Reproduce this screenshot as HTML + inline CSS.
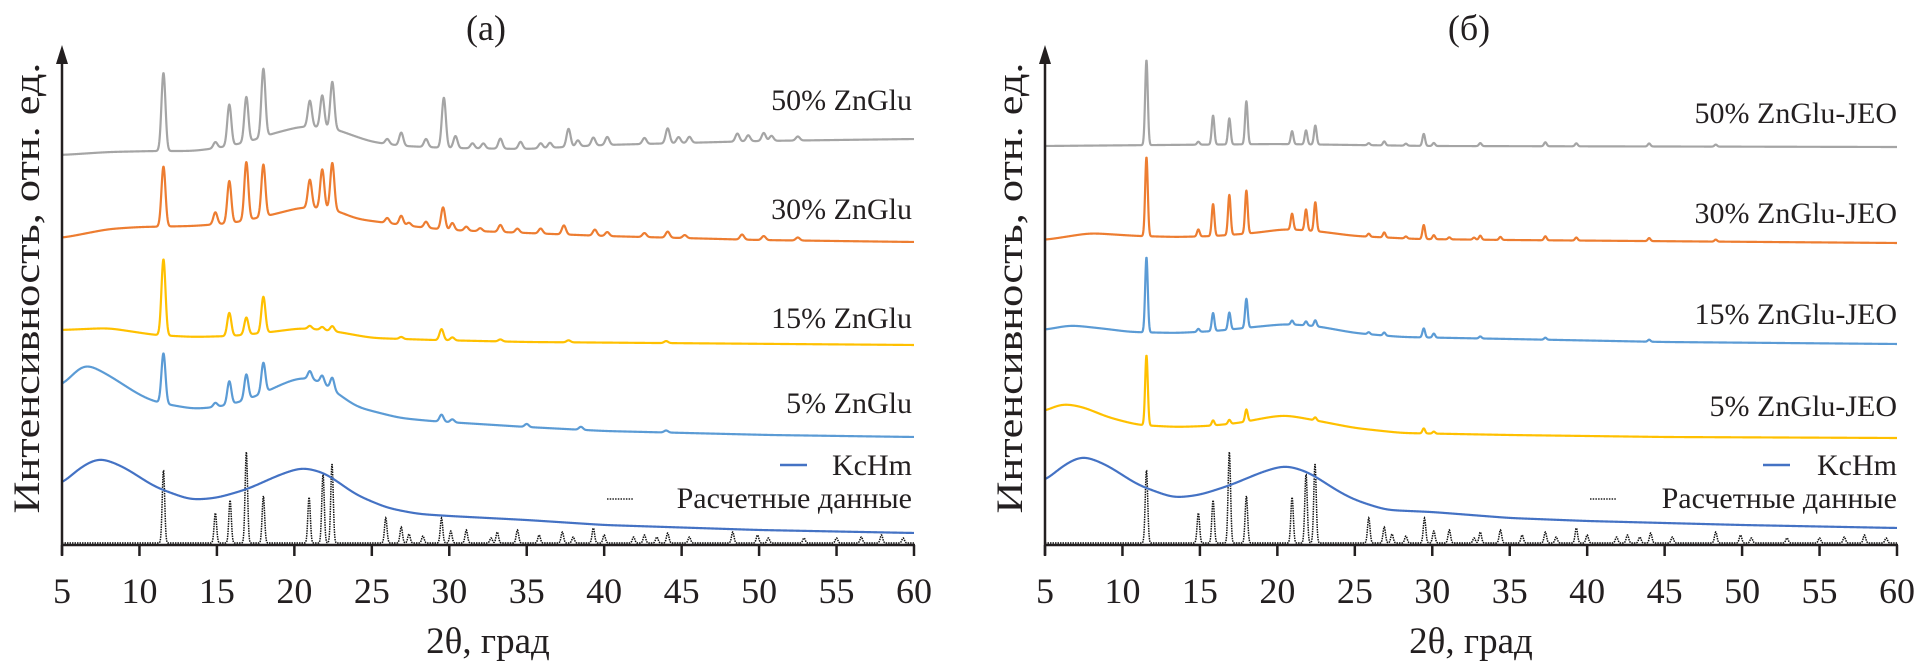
<!DOCTYPE html>
<html><head><meta charset="utf-8"><title>XRD</title>
<style>
html,body{margin:0;padding:0;background:#fff;}
svg{display:block;font-family:"Liberation Serif","DejaVu Serif",serif;}
</style></head>
<body>
<svg id="chart" width="1918" height="668" viewBox="0 0 1918 668" xmlns="http://www.w3.org/2000/svg"></svg>
<script>
// ---------- data ----------
const xTicks = [5,10,15,20,25,30,35,40,45,50,55,60];
const calcPos = [11.55,14.9,15.85,16.9,18.0,20.95,21.85,22.43,25.9,26.9,27.4,28.3,29.5,30.1,31.1,32.7,33.1,34.4,35.8,37.3,38.0,39.3,40.0,41.9,42.6,43.4,44.1,45.5,48.3,49.9,50.6,52.9,55.0,56.6,57.9,59.3];
const calcHeights = [73,30,43,91,47,46,69,79,25,16,9,7,25,12,13,5,11,13,8,11,6,15,8,6,8,6,10,6,11,8,5,5,5,6,8,5];
const calcBase = 2;
const kcA_x = [5,6,7.4,9,11,13.3,15,17,19,20.5,22,24,26,28,30,35,40,50,60];
const kcA_y = [60,76,88,78,58,45,47,56,70,78,72,50,37,31,29,25,20,15,12];
const kcB_x = [5,6,7.4,9,11,13.3,15,17,19,20.5,22,24,25,27,30,35,40,50,60];
const kcB_y = [63,78,90,80,60,47,50,60,73,80,73,53,45,35,33,27,24,20,17];
const a5_bx = [5,6.4,8,10,11,13.5,15,16.5,18,19.5,20.5,21.5,22.5,24,26.8,28.8,35,40,50.7,60];
const a5_by = [158,183,170,150,143,136,138,143,152,163,168,165,155,138,127,124,118,114,110,108];
const a5_pos = [11.55,14.9,15.8,16.9,18.0,21.0,21.8,22.45,29.5,30.2,35,38.5,44];
const a5_h = [50,4,23,25,30,8,8,12,7,3,3,3,2];
const a15_bx = [5,8,11,13.5,16,18.5,20.5,22.5,25,29,35,60];
const a15_by = [215,217,210,208,209,213,217,214,207,205,203,200];
const a15_pos = [11.55,15.8,16.9,18.0,21.0,21.8,22.45,26.9,29.5,30.2,33.3,37.7,44];
const a15_h = [76,23,17,36,3,3,5,2,11,3,2,2,2];
const a30_bx = [5,8,10,13.5,16,18.5,20.5,22.5,24,26,28,30,35,40,50,60];
const a30_by = [307,316,318,319,322,330,338,336,326,322,318,315,312,309,305,303];
const a30_pos = [11.55,14.9,15.8,16.9,18.0,21.0,21.8,22.45,26.0,26.9,27.4,28.5,29.6,30.2,31.1,32.0,33.3,34.4,35.9,37.4,39.4,40.2,42.6,44.1,45.2,48.9,50.3,52.5];
const a30_h = [60,12,42,58,52,28,39,47,5,9,3,6,22,7,4,3,7,4,5,9,6,4,4,6,3,5,4,3];
const a50_bx = [5,8,11,13.5,15,17,18.5,20.5,22.5,23.5,25,27,30,35,40,50,60];
const a50_by = [390,393,394,394,397,403,411,419,417,411,403,399,397,396,400,404,406];
const a50_pos = [11.55,14.9,15.8,16.9,18.0,21.0,21.8,22.45,26.0,26.9,28.5,29.65,30.4,31.5,32.2,33.3,34.6,35.9,36.5,37.7,38.3,39.3,40.2,42.6,44.1,44.8,45.5,48.6,49.3,50.3,50.8,52.5];
const a50_h = [78,6,41,45,68,26,32,47,5,13,8,50,12,5,5,10,7,5,5,18,6,8,8,6,15,6,6,8,6,8,5,4];
const b5_bx = [5,6,7.5,9,11,13.5,15.5,17.5,19.5,20.5,22,25,28,35,45,60];
const b5_by = [133,142,138,128,120,118,119,122,128,130,126,117,112,110,108,107];
const b5_pos = [11.55,15.85,16.9,18.0,22.45,29.45,30.1];
const b5_h = [70,5,4,12,3,5,2];
const b15_bx = [5,6.6,9,10.5,13.5,16,18.5,20.5,22.5,25,28,35,45,60];
const b15_by = [215,220,216,213,212,214,218,221,219,212,208,206,203,201];
const b15_pos = [11.55,14.9,15.85,16.9,18.0,20.95,21.85,22.45,25.9,26.9,29.45,30.1,33.1,37.3,44];
const b15_h = [75,3,18,17,29,4,4,6,2,3,9,4,2,2,2];
const b30_bx = [5,7.9,11,13.5,16,18.5,20.5,22.5,25,29,35,60];
const b30_by = [305,312,309,308,309,312,316,314,309,306,305,302];
const b30_pos = [11.55,14.9,15.85,16.9,18.0,20.95,21.85,22.45,25.9,26.9,28.3,29.45,30.1,31.1,32.7,33.1,34.4,37.3,39.3,44,48.3];
const b30_h = [79,7,32,40,43,16,21,29,3,5,2,14,4,2,2,4,3,4,3,3,2];
const b50_bx = [5,20,30,60];
const b50_by = [399,401,399,398];
const b50_pos = [11.55,14.9,15.85,16.9,18.0,20.95,21.85,22.45,25.9,26.9,28.3,29.45,30.1,33.1,37.3,39.3,44,48.3];
const b50_h = [85,3,29,26,43,13,14,19,2,4,2,12,3,3,4,3,3,2];

// ---------- helpers ----------
const svg = document.getElementById('chart');
const NS = 'http://www.w3.org/2000/svg';
function mk(tag, attrs, parent){
  const e = document.createElementNS(NS, tag);
  for (const k in attrs) e.setAttribute(k, attrs[k]);
  (parent||svg).appendChild(e);
  return e;
}
const Y0 = 545;
function yScale(v){ return Y0 - v; }
function makeX(x0){ const k = 852/55; return d => x0 + (d-5)*k; }
function lin(xs, ys, d){
  if (d <= xs[0]) return ys[0];
  for (let i=1;i<xs.length;i++){
    if (d <= xs[i]){ const t=(d-xs[i-1])/(xs[i]-xs[i-1]); return ys[i-1]+(ys[i]-ys[i-1])*t; }
  }
  return ys[ys.length-1];
}
const STEP = 0.02;
function grid(){ const g=[]; for (let d=5; d<=60.0001; d+=STEP) g.push(d); return g; }
function smoothBase(xs, ys, g){
  const raw = g.map(d=>lin(xs,ys,d));
  const sig = 0.5/STEP, R = Math.ceil(3*sig), w=[];
  for (let j=-R;j<=R;j++) w.push(Math.exp(-0.5*(j/sig)*(j/sig)));
  return raw.map((_,i)=>{
    let s=0,ws=0;
    for (let j=-R;j<=R;j++){ const k=Math.min(raw.length-1,Math.max(0,i+j)); s+=raw[k]*w[j+R]; ws+=w[j+R]; }
    return s/ws;
  });
}
function profile(d, pos, h, sig){
  let s=0;
  for (let i=0;i<pos.length;i++){
    const z=(d-pos[i])/sig;
    if (Math.abs(z)<6) s+=h[i]*Math.exp(-0.5*z*z);
  }
  return s;
}
function pathFor(xf, bx, by, pos, h, sig, baseConst){
  const g = grid();
  const base = baseConst!==undefined ? g.map(()=>baseConst) : smoothBase(bx,by,g);
  let p='';
  g.forEach((d,i)=>{
    const v = base[i] + profile(d,pos,h,sig);
    p += (i?'L':'M') + xf(d).toFixed(2)+','+yScale(v).toFixed(2);
  });
  return p;
}

function drawPanel(x0, cfg){
  const xf = makeX(x0);
  const g = mk('g',{});
  
  
  const c = mk('path',{d:pathFor(xf,null,null,calcPos,calcHeights,0.08,calcBase),fill:'none',stroke:'#111','stroke-width':1.5,'stroke-dasharray':'1.5 1'},g);
  
  
  const k = mk('path',{d:pathFor(xf,cfg.kcx,cfg.kcy,[],[],0.1),fill:'none',stroke:'#4472c4','stroke-width':2.2},g);
  
  
  cfg.series.forEach(s=>{
    const e = mk('path',{d:pathFor(xf,s.bx,s.by,s.pos,s.h,cfg.sig),fill:'none',stroke:s.color,'stroke-width':2.2,'stroke-linejoin':'round'},g);
    
    
    const t = mk('text',{x:cfg.right,y:s.ly,'text-anchor':'end','font-size':30,fill:'#231f20'},g);
    t.textContent = s.label;
    
    
  });
  const ll = mk('line',{x1:cfg.kcLeg,y1:465,x2:cfg.kcLeg+27,y2:465,stroke:'#4472c4','stroke-width':2.5},g);
  
  
  const lt = mk('text',{x:cfg.right,y:475,'text-anchor':'end','font-size':30,fill:'#231f20'},g);
  lt.textContent = 'KcHm';
  
  
  const cl = mk('line',{x1:cfg.calcLeg,y1:499,x2:cfg.calcLeg+26,y2:499,stroke:'#222','stroke-width':1.4,'stroke-dasharray':'1.5 1.2'},g);
  
  
  const ct = mk('text',{x:cfg.right,y:508,'text-anchor':'end','font-size':30,fill:'#231f20'},g);
  ct.textContent = 'Расчетные данные';
  
  
  const xa = mk('line',{x1:x0,y1:Y0,x2:xf(60)+1,y2:Y0,stroke:'#231f20','stroke-width':2.5},g);
  
  
  const ya = mk('line',{x1:x0,y1:Y0+10,x2:x0,y2:60,stroke:'#231f20','stroke-width':2.5},g);
  
  
  const ar = mk('polygon',{points:`${x0},45 ${x0-6},64 ${x0+6},64`,fill:'#231f20'},g);
  
  
  xTicks.forEach(t=>{
    const tk = mk('line',{x1:xf(t),y1:Y0,x2:xf(t),y2:Y0+11,stroke:'#231f20','stroke-width':2.5},g);
    
    
    const tl = mk('text',{x:xf(t),y:603,'text-anchor':'middle','font-size':36,fill:'#231f20'},g);
    tl.textContent = String(t);
    
    
  });
  const xt = mk('text',{x:(x0+xf(60))/2,y:653,'text-anchor':'middle','font-size':37,fill:'#231f20'},g);
  xt.textContent = '2θ, град';
  
  
  const yt = mk('text',{x:0,y:0,'text-anchor':'middle','font-size':37,fill:'#231f20',textLength:451,lengthAdjust:'spacingAndGlyphs',transform:`translate(${x0-23},288) rotate(-90)`},g);
  yt.textContent = 'Интенсивность, отн. ед.';
  
  
  const pt = mk('text',{x:(x0+xf(60))/2-2,y:40,'text-anchor':'middle','font-size':36,fill:'#231f20'},g);
  pt.textContent = cfg.title;
  
  
}

drawPanel(62,{name:'panel-a',title:'(a)',sig:0.13,right:912,kcLeg:780,calcLeg:607,kcx:kcA_x,kcy:kcA_y,series:[
  {name:'zn-5',label:'5% ZnGlu',color:'#5b9bd5',bx:a5_bx,by:a5_by,pos:a5_pos,h:a5_h,ly:413},
  {name:'zn-15',label:'15% ZnGlu',color:'#ffc000',bx:a15_bx,by:a15_by,pos:a15_pos,h:a15_h,ly:328},
  {name:'zn-30',label:'30% ZnGlu',color:'#ed7d31',bx:a30_bx,by:a30_by,pos:a30_pos,h:a30_h,ly:219},
  {name:'zn-50',label:'50% ZnGlu',color:'#a5a5a5',bx:a50_bx,by:a50_by,pos:a50_pos,h:a50_h,ly:110}
]});
drawPanel(1045,{name:'panel-b',title:'(б)',sig:0.085,right:1897,kcLeg:1763,calcLeg:1590,kcx:kcB_x,kcy:kcB_y,series:[
  {name:'jeo-5',label:'5% ZnGlu-JEO',color:'#ffc000',bx:b5_bx,by:b5_by,pos:b5_pos,h:b5_h,ly:416},
  {name:'jeo-15',label:'15% ZnGlu-JEO',color:'#5b9bd5',bx:b15_bx,by:b15_by,pos:b15_pos,h:b15_h,ly:324},
  {name:'jeo-30',label:'30% ZnGlu-JEO',color:'#ed7d31',bx:b30_bx,by:b30_by,pos:b30_pos,h:b30_h,ly:223},
  {name:'jeo-50',label:'50% ZnGlu-JEO',color:'#a5a5a5',bx:b50_bx,by:b50_by,pos:b50_pos,h:b50_h,ly:123}
]});
</script>
</body></html>
